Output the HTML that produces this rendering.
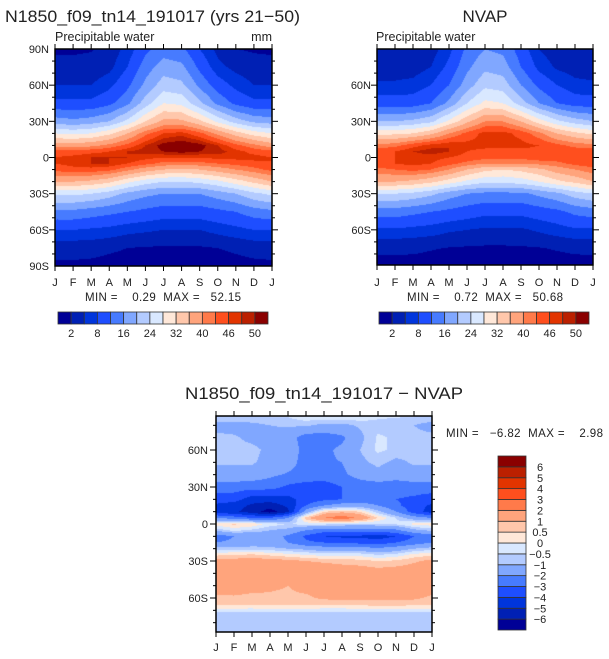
<!DOCTYPE html>
<html><head><meta charset="utf-8">
<style>
html,body{margin:0;padding:0;background:#fff;}
#wrap{position:relative;width:609px;height:659px;overflow:hidden;font-family:"Liberation Sans",sans-serif;}
canvas{position:absolute;}
svg{position:absolute;left:0;top:0;}
text{font-family:"Liberation Sans",sans-serif;fill:#222;}
.pre{white-space:pre;}
</style></head>
<body>
<div id="wrap">
<canvas id="c1"></canvas>
<canvas id="c2"></canvas>
<canvas id="c3"></canvas>
<svg id="ov" width="609" height="659"></svg>
</div>
<script>
// ---------- data ----------
const months = ["J","F","M","A","M","J","J","A","S","O","N","D","J"];
const pwLats = [90,75,60,45,30,20,10,5,0,-5,-10,-20,-30,-45,-60,-75,-90];
const modelPW = [
[1.5,1.5,1.8,3,6,11,14,13,8,4,2,1.7,1.5],
[3,3,3,4,8,14,18,17,11,6,4,3,3],
[5,5,5,7,11,17,22,21,15,10,7,5,5],
[9,9,9,11,15,22,28,27,21,15,11,9,9],
[18,17,18,20,25,32,37,37,33,27,22,19,18],
[28,27,28,31,36,42,46,47,44,39,34,30,28],
[38,38,39,41,44,48,51,52,51,48,44,41,38],
[44,44,45,46,48,49,50,51,50,49,47,45,44],
[46,47,48,48,48,47,46,46,46,47,47,47,46],
[46,47,48,48,46,44,42,42,42,43,44,45,46],
[44,45,45,44,41,38,36,35,36,38,40,42,44],
[36,36,35,33,29,26,24,24,25,27,30,33,36],
[25,25,24,22,19,17,16,16,16,18,20,23,25],
[15,15,14,13,12,11,10,10,10,11,12,14,15],
[8,8,7.5,7,6,5.5,5,5,5,6,7,8,8],
[3,3,3,2.5,2,1.8,1.6,1.6,1.7,2,2.5,3,3],
[1.5,1.5,1.3,1,0.8,0.6,0.5,0.5,0.6,0.8,1,1.3,1.5]];
const nvapPW = [
[2.5,2.5,2.5,3.5,7,13,16,15,10,5,3,2.5,2.5],
[3.5,3.5,3.5,5,9,15,19,18,12,7,4.5,3.5,3.5],
[5.5,5.5,6,8,12,18,23,22,16,11,8,6,5.5],
[10,10,10,12,17,24,29,28,22,16,12,10,10],
[20,20,21,23,29,35,40,40,36,30,25,22,20],
[31,31,32,35,40,44,47,47,45,41,36,33,31],
[41,42,45,47,48,47,47,47,47,46,44,42,41],
[45,46,48,49,48,46,45,45,45,45,45,45,45],
[45,46,47,47,46,45,44,44,44,45,45,45,45],
[45,46,47,46,44,42,40,40,40,41,42,44,45],
[42,43,44,43,40,36,33,32,33,35,38,40,42],
[36,36,35,33,30,27,25,25,26,28,31,33,36],
[24,24,23,21,18,16,15,15,15,17,19,22,24],
[14,14,13,12,11,10,9,9,9,10,11,13,14],
[7.5,7.5,7,6.5,5.5,5,4.5,4.5,4.5,5.5,6.5,7.5,7.5],
[2.5,2.5,2.5,2.2,1.9,1.7,1.6,1.6,1.7,1.9,2.2,2.5,2.5],
[1.2,1.2,1.1,0.9,0.8,0.6,0.5,0.5,0.6,0.8,1,1.1,1.2]];
const diffLats = [90,80,70,60,50,40,30,20,15,10,5,0,-5,-10,-15,-20,-25,-30,-40,-50,-60,-65,-68,-72,-80,-90];
const diffPW = [
[-0.3,-0.3,-0.3,-0.3,-0.3,0.2,0.3,0.3,0.2,-0.3,-0.3,-0.3,-0.3],
[-1.3,-1.3,-1.2,-1.0,-0.9,-0.9,-1.2,-1.2,-0.9,-0.7,-0.8,-1.0,-1.3],
[-0.8,-0.9,-1.2,-1.3,-1.5,-2.5,-2.5,-2.2,-1.2,-0.4,-0.6,-0.8,-0.8],
[-0.8,-0.8,-0.8,-1.2,-1.5,-2.3,-2.2,-1.8,-1.0,-0.4,-0.6,-0.8,-0.8],
[-0.9,-0.9,-0.9,-1.3,-1.6,-2.4,-2.1,-2.0,-1.2,-0.8,-1.2,-0.9,-0.9],
[-1.3,-1.3,-1.4,-1.8,-2.1,-2.3,-2.5,-2.2,-1.6,-1.3,-1.6,-1.3,-1.3],
[-2.5,-2.5,-2.6,-2.6,-3.2,-3.5,-3.5,-3.0,-2.6,-2.5,-2.5,-2.5,-2.5],
[-3.5,-3.6,-4.5,-4.6,-4.3,-3.6,-3.2,-3.0,-2.6,-2.5,-3.0,-3.2,-3.5],
[-4.2,-4.5,-5.2,-5.5,-4.8,-3.0,-2.0,-1.5,-1.5,-2.0,-2.8,-3.5,-4.2],
[-4.5,-4.8,-5.5,-6.5,-5.2,-1.5,0.5,0.8,0.5,-0.8,-2.0,-3.5,-4.5],
[-2.0,-2.5,-3.0,-3.0,-2.0,0.8,2.0,2.6,1.8,0.5,-0.5,-1.5,-2.0],
[0.3,0.6,0.4,-0.2,-0.5,-0.3,-0.3,-0.5,-0.6,-0.5,-0.4,0.2,0.3],
[-0.8,-0.3,-0.6,-1.0,-1.2,-2.0,-2.5,-2.5,-2.5,-2.5,-2.2,-1.2,-0.8],
[-2.5,-2.0,-1.8,-1.5,-2.2,-3.2,-4.0,-4.2,-4.2,-4.5,-4.0,-3.0,-2.5],
[-2.0,-1.8,-1.5,-1.5,-2.0,-2.8,-3.0,-3.2,-3.3,-3.5,-3.0,-2.5,-2.0],
[-0.7,-0.8,-0.7,-0.8,-1.0,-1.2,-1.5,-1.5,-1.5,-1.8,-1.5,-1.0,-0.7],
[0.4,0.5,0.6,0.4,0.2,0.0,-0.2,-0.2,-0.2,-0.5,-0.3,0.2,0.4],
[1.2,1.3,1.4,1.3,1.2,1.0,0.9,0.8,0.7,0.5,0.6,0.9,1.2],
[1.5,1.6,1.7,1.6,1.5,1.6,1.6,1.5,1.5,1.4,1.5,1.5,1.5],
[1.3,1.4,1.3,1.1,1.0,1.2,1.3,1.4,1.3,1.4,1.3,1.3,1.3],
[0.9,0.9,0.8,0.9,0.9,0.9,1.1,1.2,1.2,1.2,1.2,1.1,0.9],
[0.6,0.6,0.6,0.6,0.6,0.6,0.6,0.7,0.7,0.7,0.7,0.7,0.6],
[0.1,0.1,0.1,0.2,0.2,0.1,0.1,0.1,0.1,0.2,0.2,0.1,0.1],
[-0.6,-0.6,-0.7,-0.7,-0.6,-0.6,-0.7,-0.7,-0.6,-0.6,-0.6,-0.6,-0.6],
[-0.8,-0.8,-0.7,-0.6,-0.5,-0.6,-0.8,-0.8,-0.8,-0.8,-0.8,-0.8,-0.8],
[-0.6,-0.6,-0.6,-0.6,-0.6,-0.6,-0.6,-0.6,-0.6,-0.6,-0.6,-0.6,-0.6]];
const pwLevels = [2,5,8,12,16,20,24,28,32,36,40,43,46,48,50];
const pwTickLabels = ["2","8","16","24","32","40","46","50"];
const diffLevels = [-6,-5,-4,-3,-2,-1,-0.5,0,0.5,1,2,3,4,5,6];
const diffTickLabels = ["6","5","4","3","2","1","0.5","0","\u22120.5","\u22121","\u22122","\u22123","\u22124","\u22125","\u22126"];
const palette = ['#000096','#0020b4','#0035dc','#1e4eff','#477bff','#80a7ff','#b3cbff','#d9e8ff','#ffe8d9','#ffc7ab','#ffa47c','#ff7a4a','#ff4f1e','#e23400','#bb2000','#8a0000'];

// ---------- helpers ----------
function hex(c){return [parseInt(c.slice(1,3),16),parseInt(c.slice(3,5),16),parseInt(c.slice(5,7),16)];}
const palRGB = palette.map(hex);
function interp(lats, grid, m, lat){
  let i=0; while(i<lats.length-2 && lat<lats[i+1]) i++;
  let t=(lats[i]-lat)/(lats[i]-lats[i+1]); t=Math.max(0,Math.min(1,t));
  let j=Math.min(11,Math.floor(m)), u=m-j;
  const a=grid[i][j]*(1-u)+grid[i][j+1]*u, b=grid[i+1][j]*(1-u)+grid[i+1][j+1]*u;
  return a*(1-t)+b*t;
}
function band(levels,v){let k=0;while(k<levels.length&&v>=levels[k])k++;return k;}
function drawField(id,x0,y0,w,h,eqY,scale,lats,grid,levels){
  const cv=document.getElementById(id);
  cv.width=w;cv.height=h;cv.style.left=x0+'px';cv.style.top=y0+'px';
  const ctx=cv.getContext('2d');const img=ctx.createImageData(w,h);
  for(let py=0;py<h;py++){
    const lat=(eqY-(y0+py+0.5))/scale;
    for(let px=0;px<w;px++){
      const m=(px+0.5)/w*12;
      const c=palRGB[band(levels,interp(lats,grid,m,lat))];
      const o=(py*w+px)*4;img.data[o]=c[0];img.data[o+1]=c[1];img.data[o+2]=c[2];img.data[o+3]=255;
    }
  }
  ctx.putImageData(img,0,0);
}
const NS='http://www.w3.org/2000/svg';
const ov=document.getElementById('ov');
function el(tag,attrs,txt){const e=document.createElementNS(NS,tag);for(const k in attrs)e.setAttribute(k,attrs[k]);if(txt!==undefined)e.textContent=txt;ov.appendChild(e);return e;}
function latLabel(l){return l===0?'0':Math.abs(l)+(l>0?'N':'S');}
function axes(x0,y0,w,h,eqY,scale,labelLats,labelX,monthY,prefix){
  const fr=el('rect',{x:x0,y:y0,width:w,height:h,fill:'none',stroke:'#000','stroke-width':1.5});
  
  
  for(let i=0;i<13;i++){
    const x=x0+i*w/12;
    el('line',{x1:x,y1:y0,x2:x,y2:y0-5,stroke:'#000'});
    el('line',{x1:x,y1:y0+h,x2:x,y2:y0+h+5,stroke:'#000'});
    const t=el('text',{x:x,y:monthY,'font-size':11,'text-anchor':'middle'},months[i]);
    
    
  }
  for(let l=-80;l<=80;l+=10){
    const y=eqY-l*scale; if(y<y0||y>y0+h) continue;
    const major=(l%30===0);
    el('line',{x1:x0,y1:y,x2:x0-(major?6:3),y2:y,stroke:'#000'});
    el('line',{x1:x0+w,y1:y,x2:x0+w+(major?6:3),y2:y,stroke:'#000'});
  }
  labelLats.forEach(l=>{
    const y=eqY-l*scale;
    const t=el('text',{x:labelX,y:y+4,'font-size':11,'text-anchor':'end'},latLabel(l));
    
    
  });
}
function hbar(x0,y0,w,h,labelY,prefix){
  const bw=w/16;
  for(let k=0;k<16;k++){
    const r=el('rect',{x:x0+k*bw,y:y0,width:bw,height:h,fill:palette[k],stroke:'#333','stroke-width':0.8});
    
    
  }
  pwTickLabels.forEach((s,i)=>{
    const t=el('text',{x:x0+(1+2*i)*bw,y:labelY,'font-size':11,'text-anchor':'middle'},s);
    
    
  });
}

// ---------- top left ----------
const TS=217/180;
drawField('c1',55,49,217,217,157.5,TS,pwLats,modelPW,pwLevels);
axes(55,49,217,217,157.5,TS,[90,60,30,0,-30,-60,-90],49,286,'model');
let t;
t=el('text',{x:5,y:22,'font-size':17,textLength:295,lengthAdjust:'spacingAndGlyphs'},'N1850_f09_tn14_191017 (yrs 21\u221250)');

t=el('text',{x:55,y:41,'font-size':12.5},'Precipitable water');

t=el('text',{x:272,y:41,'font-size':12.5,'text-anchor':'end'},'mm');

t=el('text',{x:85,y:301,'font-size':11.5,'class':'pre',textLength:156,lengthAdjust:'spacing'},'MIN =    0.29  MAX =   52.15');

hbar(58,312,210,12,337,'model');

// ---------- top right ----------
drawField('c2',377,49,216,216,157.5,TS,pwLats,nvapPW,pwLevels);
axes(377,49,216,216,157.5,TS,[60,30,0,-30,-60],371,286,'nvap');
t=el('text',{x:485,y:22,'font-size':17,'text-anchor':'middle'},'NVAP');

t=el('text',{x:376,y:41,'font-size':12.5},'Precipitable water');

t=el('text',{x:407,y:301,'font-size':11.5,'class':'pre',textLength:156,lengthAdjust:'spacing'},'MIN =    0.72  MAX =   50.68');

hbar(379,312,210,12,337,'nvap');

// ---------- bottom ----------
const BS=37/30;
drawField('c3',216,416,216,216,524,BS,diffLats,diffPW,diffLevels);
axes(216,416,216,216,524,BS,[60,30,0,-30,-60],208,651,'diff');
t=el('text',{x:185,y:399,'font-size':17,textLength:278,lengthAdjust:'spacingAndGlyphs'},'N1850_f09_tn14_191017 \u2212 NVAP');

t=el('text',{x:446,y:437,'font-size':11.5,'class':'pre',textLength:157,lengthAdjust:'spacing'},'MIN =   \u22126.82  MAX =    2.98');

const vbh=174/16;
for(let k=0;k<16;k++){
  const r=el('rect',{x:498,y:456+(15-k)*vbh,width:28,height:vbh,fill:palette[k],stroke:'#333','stroke-width':0.8});
  
  
}
diffTickLabels.forEach((s,i)=>{
  const tt=el('text',{x:540,y:456+(i+1)*vbh+4,'font-size':11,'text-anchor':'middle'},s);
  
  
});
</script>
</body></html>
